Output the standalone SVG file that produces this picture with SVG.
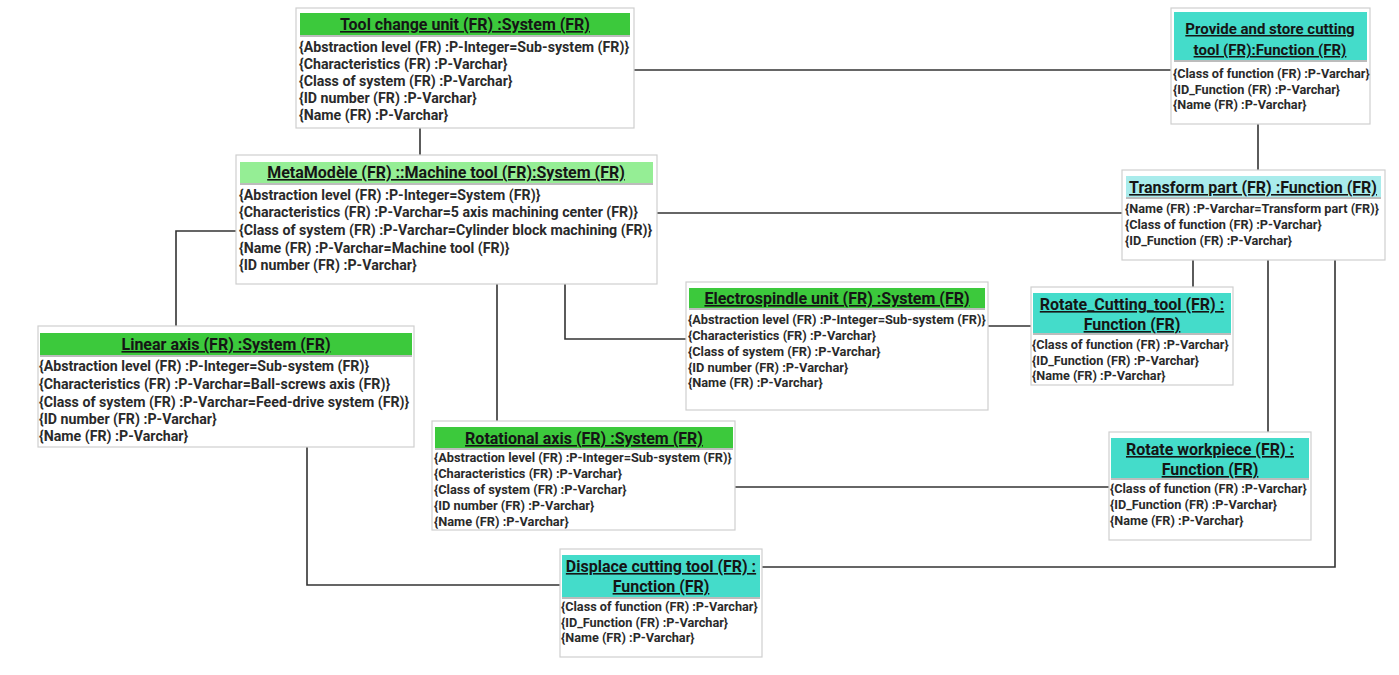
<svg xmlns="http://www.w3.org/2000/svg" width="1399" height="675" viewBox="0 0 1399 675">
<style>
.bg{fill:#fff}
.box{fill:#fff;stroke:#cfcfcf;stroke-width:1.2}
.hg{fill:#3cc93c}
.hl{fill:#95ee95}
.ht{fill:#44dcca}
.hc{fill:#a9ecec}
.sep{stroke:#7a7a7a;stroke-width:1.2}
.h{font-family:Roboto,"Liberation Sans",sans-serif;font-weight:bold;font-size:16px;fill:#151515;text-decoration:underline;text-anchor:middle}
.h2{font-size:15px}
.t{font-family:Roboto,"Liberation Sans",sans-serif;font-weight:bold;font-size:14.2px;fill:#2a2a2a}
.s{font-family:Roboto,"Liberation Sans",sans-serif;font-weight:bold;font-size:12.8px;fill:#2a2a2a}
.f{font-family:Roboto,"Liberation Sans",sans-serif;font-weight:bold;font-size:12.7px;fill:#2a2a2a}
.c{fill:none;stroke:#333;stroke-width:1.6}
</style>
<rect class="bg" x="0" y="0" width="1399" height="675"/>
<g id="connectors">
<path class="c" d="M420 128 V155"/>
<path class="c" d="M634 70 H1171"/>
<path class="c" d="M1258 124 V170"/>
<path class="c" d="M657 213 H1122"/>
<path class="c" d="M236 231 H176 V326"/>
<path class="c" d="M497 284 V421"/>
<path class="c" d="M565 284 V339 H686"/>
<path class="c" d="M988 326 H1031"/>
<path class="c" d="M1193 260 V287"/>
<path class="c" d="M1268 260 V432"/>
<path class="c" d="M1335 260 V567 H762"/>
<path class="c" d="M735 487 H1109"/>
<path class="c" d="M307 447 V585 H560"/>
</g>
<g id="tool-change-unit">
<rect class="box" x="296" y="8" width="338" height="120"/>
<rect class="hg" x="300" y="13" width="330" height="22"/>
<line class="sep" x1="300" y1="36" x2="630" y2="36"/>
<text class="h" x="465" y="30">Tool change unit (FR) :System (FR)</text>
<text class="t" x="299" y="52">{Abstraction level (FR) :P-Integer=Sub-system (FR)}</text>
<text class="t" x="299" y="69">{Characteristics (FR) :P-Varchar}</text>
<text class="t" x="299" y="86">{Class of system (FR) :P-Varchar}</text>
<text class="t" x="299" y="103">{ID number (FR) :P-Varchar}</text>
<text class="t" x="299" y="120">{Name (FR) :P-Varchar}</text>
</g>
<g id="machine-tool">
<rect class="box" x="236" y="155" width="421" height="129"/>
<rect class="hl" x="240" y="162" width="413" height="21"/>
<line class="sep" x1="240" y1="184" x2="653" y2="184"/>
<text class="h" x="446" y="178">MetaModèle (FR) ::Machine tool (FR):System (FR)</text>
<text class="t" x="239" y="200">{Abstraction level (FR) :P-Integer=System (FR)}</text>
<text class="t" x="239" y="217">{Characteristics (FR) :P-Varchar=5 axis machining center (FR)}</text>
<text class="t" x="239" y="235">{Class of system (FR) :P-Varchar=Cylinder block machining (FR)}</text>
<text class="t" x="239" y="253">{Name (FR) :P-Varchar=Machine tool (FR)}</text>
<text class="t" x="239" y="270">{ID number (FR) :P-Varchar}</text>
</g>
<g id="provide-store">
<rect class="box" x="1171" y="8" width="199" height="116"/>
<rect class="ht" x="1174" y="12" width="193" height="48"/>
<line class="sep" x1="1174" y1="61" x2="1367" y2="61"/>
<text class="h h2" x="1270" y="34">Provide and store cutting</text>
<text class="h h2" x="1270" y="55">tool (FR):Function (FR)</text>
<text class="f" x="1173" y="78">{Class of function (FR) :P-Varchar}</text>
<text class="f" x="1173" y="94">{ID_Function (FR) :P-Varchar}</text>
<text class="f" x="1173" y="109">{Name (FR) :P-Varchar}</text>
</g>
<g id="transform-part">
<rect class="box" x="1122" y="170" width="263" height="90"/>
<rect class="hc" x="1126" y="176" width="255" height="21"/>
<line class="sep" x1="1126" y1="198" x2="1381" y2="198"/>
<text class="h" x="1253" y="193">Transform part (FR) :Function (FR)</text>
<text class="f" x="1125" y="213">{Name (FR) :P-Varchar=Transform part (FR)}</text>
<text class="f" x="1125" y="229">{Class of function (FR) :P-Varchar}</text>
<text class="f" x="1125" y="245">{ID_Function (FR) :P-Varchar}</text>
</g>
<g id="linear-axis">
<rect class="box" x="38" y="326" width="376" height="121"/>
<rect class="hg" x="40" y="333" width="372" height="22"/>
<line class="sep" x1="40" y1="356" x2="412" y2="356"/>
<text class="h" x="226" y="350">Linear axis (FR) :System (FR)</text>
<text class="t" x="39" y="371">{Abstraction level (FR) :P-Integer=Sub-system (FR)}</text>
<text class="t" x="39" y="389">{Characteristics (FR) :P-Varchar=Ball-screws axis (FR)}</text>
<text class="t" x="39" y="407">{Class of system (FR) :P-Varchar=Feed-drive system (FR)}</text>
<text class="t" x="39" y="424">{ID number (FR) :P-Varchar}</text>
<text class="t" x="39" y="441">{Name (FR) :P-Varchar}</text>
</g>
<g id="electrospindle">
<rect class="box" x="686" y="282" width="302" height="128"/>
<rect class="hg" x="689" y="288" width="296" height="20"/>
<line class="sep" x1="689" y1="309" x2="985" y2="309"/>
<text class="h" x="837" y="304">Electrospindle unit (FR) :System (FR)</text>
<text class="s" x="688" y="324">{Abstraction level (FR) :P-Integer=Sub-system (FR)}</text>
<text class="s" x="688" y="340">{Characteristics (FR) :P-Varchar}</text>
<text class="s" x="688" y="356">{Class of system (FR) :P-Varchar}</text>
<text class="s" x="688" y="372">{ID number (FR) :P-Varchar}</text>
<text class="s" x="688" y="387">{Name (FR) :P-Varchar}</text>
</g>
<g id="rotate-cutting-tool">
<rect class="box" x="1031" y="287" width="202" height="98"/>
<rect class="ht" x="1033" y="293" width="198" height="40"/>
<line class="sep" x1="1033" y1="334" x2="1231" y2="334"/>
<text class="h" x="1132" y="310">Rotate_Cutting_tool (FR) :</text>
<text class="h" x="1132" y="330">Function (FR)</text>
<text class="f" x="1032" y="349">{Class of function (FR) :P-Varchar}</text>
<text class="f" x="1032" y="365">{ID_Function (FR) :P-Varchar}</text>
<text class="f" x="1032" y="380">{Name (FR) :P-Varchar}</text>
</g>
<g id="rotational-axis">
<rect class="box" x="432" y="421" width="303" height="109"/>
<rect class="hg" x="435" y="427" width="298" height="21"/>
<line class="sep" x1="435" y1="449" x2="733" y2="449"/>
<text class="h" x="584" y="444">Rotational axis (FR) :System (FR)</text>
<text class="s" x="434" y="462">{Abstraction level (FR) :P-Integer=Sub-system (FR)}</text>
<text class="s" x="434" y="478">{Characteristics (FR) :P-Varchar}</text>
<text class="s" x="434" y="494">{Class of system (FR) :P-Varchar}</text>
<text class="s" x="434" y="510">{ID number (FR) :P-Varchar}</text>
<text class="s" x="434" y="526">{Name (FR) :P-Varchar}</text>
</g>
<g id="rotate-workpiece">
<rect class="box" x="1109" y="432" width="202" height="108"/>
<rect class="ht" x="1111" y="438" width="198" height="40"/>
<line class="sep" x1="1111" y1="479" x2="1309" y2="479"/>
<text class="h" x="1210" y="455">Rotate workpiece (FR) :</text>
<text class="h" x="1210" y="475">Function (FR)</text>
<text class="f" x="1110" y="493">{Class of function (FR) :P-Varchar}</text>
<text class="f" x="1110" y="509">{ID_Function (FR) :P-Varchar}</text>
<text class="f" x="1110" y="525">{Name (FR) :P-Varchar}</text>
</g>
<g id="displace-cutting-tool">
<rect class="box" x="560" y="549" width="202" height="108"/>
<rect class="ht" x="562" y="555" width="198" height="42"/>
<line class="sep" x1="562" y1="598" x2="760" y2="598"/>
<text class="h" x="661" y="572">Displace cutting tool (FR) :</text>
<text class="h" x="661" y="592">Function (FR)</text>
<text class="f" x="561" y="611">{Class of function (FR) :P-Varchar}</text>
<text class="f" x="561" y="627">{ID_Function (FR) :P-Varchar}</text>
<text class="f" x="561" y="642">{Name (FR) :P-Varchar}</text>
</g>
</svg>
